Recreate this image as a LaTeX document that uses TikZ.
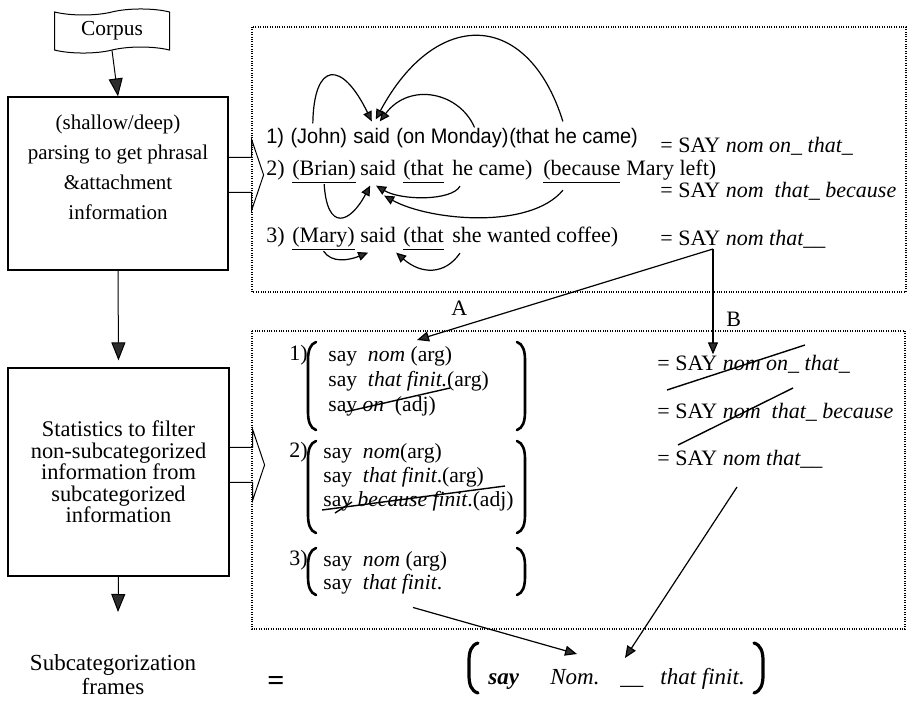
\documentclass[tikz,border=0pt]{standalone}
\usepackage{fontspec}
\setmainfont{Liberation Serif}
\newfontfamily\narrowsans[FakeStretch=0.95]{Liberation Sans}
\usetikzlibrary{arrows.meta,positioning,shapes.symbols}

\definecolor{headgray}{RGB}{45,45,45}

\tikzset{
  flowbox/.style={draw, line width=0.6pt, minimum width=110pt, align=center},
  flowarrow/.style={line width=0.5pt, -{Triangle[length=9pt,width=7pt,fill=headgray]}},
  chev/.style={line width=0.5pt},
  dotframe/.style={line width=0.7pt, dash pattern=on 0.5pt off 0.7pt},
  word/.style={inner sep=0pt, anchor=base west, font=\fontsize{11}{12}\selectfont},
  sansword/.style={word, font=\narrowsans\fontsize{10.5}{12}\selectfont},
  grp/.style={inner sep=0pt, anchor=north west, align=left},
  dep/.style={line width=0.6pt, -{Triangle[length=5pt,width=4.5pt,fill=headgray]}},
  pick/.style={line width=0.6pt, -{Triangle[length=6pt,width=5pt,fill=headgray]}},
  strike/.style={line width=0.7pt},
  brk/.style={line width=1.3pt, line cap=round}
}

\begin{document}
\begin{tikzpicture}[x=0.5pt,y=-0.5pt]

% left column: the flow
\node[draw, tape, line width=0.5pt, minimum width=57.5pt, minimum height=20pt, tape bend height=3pt,
  font=\fontsize{10.7}{12}\selectfont] (corpus) at (112,31) {Corpus};
\node[flowbox, minimum height=86.5pt, text depth=16pt, font=\fontsize{10.5}{15}\selectfont]
  (parse) at (118,183.5) {(shallow/deep)\\parsing to get phrasal\\\&attachment\\information};
\node[flowbox, minimum width=110.5pt, minimum height=104pt, font=\fontsize{11.2}{10.8}\selectfont]
  (stats) at (118.5,472) {Statistics to filter\\non-subcategorized\\information from\\subcategorized\\information};
\coordinate (outtip) at (118,612);
\node[align=center, font=\fontsize{11.5}{12}\selectfont] (frames) at (113,675) {Subcategorization\\frames};

\draw[flowarrow] (corpus.south) -- (parse.north);
\draw[flowarrow] (parse.south) -- ([yshift=3.5pt]stats.north);
\draw[flowarrow] (stats.south) -- (outtip);

\foreach \b/\off in {parse/61, stats/80}
  \draw[chev] (\b.north east) ++(0,\off) -- ++(23,0) -- ++(0,-18) -- ++(12,35.5)
    -- ++(-12,35.5) -- ++(0,-18) -- ++(-23,0);

% the two dotted frames
\draw[dotframe] (252,27) rectangle (906,292);
\draw[dotframe] (252,331) rectangle (905,629);

% sentence 1
\node[sansword] (n1) at (266,143) {1)};
\node[sansword, base right=2.8pt of n1] (john) {(John)};
\node[sansword, base right=2.8pt of john] (said1) {said};
\node[sansword, base right=2.8pt of said1] (monday) {(on Monday)};
\node[sansword, base right=0pt of monday] (thathe) {(that he came)};

% sentence 2
\node[word] (n2) at (266,175) {2)};
\node[word] (brian) at (292,175) {\underline{(Brian)}};
\node[word] (said2) at (360,175) {said};
\node[word] (that2) at (403,175) {\underline{(that}};
\node[word] (came2) at (452,175) {he came)};
\node[word] (because) at (543,175) {\underline{(because}};
\node[word] (left2) at (626,175) {Mary left)};

% sentence 3
\node[word] (n3) at (266,242) {3)};
\node[word] (mary) at (292,242) {\underline{(Mary)}};
\node[word] (said3) at (360,242) {said};
\node[word] (that3) at (403,242) {\underline{(that}};
\node[word] (she) at (452,242) {she wanted coffee)};

% attachment arcs
\draw[dep] ([shift={(-3pt,2pt)}]john.north) .. controls +(1,-62) and +(-30,-62) .. ([yshift=3pt]said1.north);
\draw[dep] ([xshift=11pt]monday.north) .. controls +(-15,-35) and +(30,-40) .. ([shift={(4pt,3pt)}]said1.north);
\draw[dep] ([shift={(27pt,3pt)}]thathe.north west) .. controls +(-35,-112) and +(60,-112) .. ([shift={(2pt,4pt)}]said1.north);

\draw[dep] (brian.south) .. controls +(3,48) and +(-20,38) .. ([shift={(-4pt,-5pt)}]said2.south);
\draw[dep] ([shift={(4pt,-3pt)}]came2.south west) .. controls +(-8,15) and +(25,15) .. ([shift={(-1pt,-5pt)}]said2.south);
\draw[dep] ([shift={(10pt,-3pt)}]because.south west) .. controls +(-33,40) and +(45,25) .. ([shift={(3pt,-10pt)}]said2.south);

\draw[dep] (mary.south) .. controls +(8,12) and +(-20,8) .. ([shift={(-5pt,-5pt)}]said3.south);
\draw[dep] ([shift={(4pt,-3pt)}]she.south west) .. controls +(-15,22) and +(25,22) .. ([shift={(9pt,-5pt)}]said3.south);

% frames found
\node[word] (sayA) at (660,152) {= SAY \textit{nom on\_ that\_}};
\node[word] (sayB) at (660,197) {= SAY \textit{nom\ \ that\_ because}};
\node[word] (sayC) at (660,245) {= SAY \textit{nom that\_\_}};
\coordinate (fork) at ([shift={(53,4)}]sayC.base west);

% filtered groups
\node[word] (lab1) at (289,360) {1)};
\node[word] (lab2) at (289,457) {2)};
\node[word] (lab3) at (289,565) {3)};
\node[grp, font=\fontsize{10.8}{12.5}\selectfont] (grp1) at (328,346)
  {say\ \ \textit{nom} (arg)\\say\ \ \textit{that finit.}(arg)\\say \textit{on}\ \ (adj)};
\node[grp, font=\fontsize{10.8}{12}\selectfont] (grp2) at (323,443)
  {say\ \ \textit{nom}(arg)\\say\ \ \textit{that finit}.(arg)\\say \textit{because finit}.(adj)};
\node[grp, font=\fontsize{10.8}{11.5}\selectfont] (grp3) at (323,551)
  {say\ \ \textit{nom} (arg)\\say\ \ \textit{that finit}.};

\foreach \t/\b in {342/430, 441/533, 548/595} {
  \draw[brk] (316,\t) .. controls (310,\t+2) and (308,\t+9) .. (308,\t+18) -- (308,\b-18)
    .. controls (308,\b-9) and (310,\b-2) .. (316,\b);
  \draw[brk] (517,\t) .. controls (523,\t+2) and (525,\t+9) .. (525,\t+18) -- (525,\b-18)
    .. controls (525,\b-9) and (523,\b-2) .. (517,\b);
}
\draw[strike] (345,412) -- (450,388);
\draw[strike] (322,510) -- (505,486);
\draw[strike] (335,513) -- (352,502);

\node[word] (sayD) at (657,370) {= SAY \textit{nom on\_ that\_}};
\node[word] (sayE) at (657,418) {= SAY \textit{nom\ \ that\_ because}};
\node[word] (sayF) at (657,465) {= SAY \textit{nom that\_\_}};
\draw[strike] ([shift={(10,20)}]sayD.base west) -- ++(138,-45);
\draw[strike] ([shift={(21,27)}]sayE.base west) -- ++(115,-57);

\node[word] (labA) at (451,315) {A};
\node[word] (labB) at (726,326) {B};
\draw[pick] (fork) -- ([shift={(89,-6)}]grp1.north west);
\draw[pick] (fork) -- (fork |- sayD.north);

% result
\node[font=\fontsize{15}{15}\selectfont\bfseries] (eq) at (276,683) {=};
\node[word, font=\fontsize{11.5}{12}\selectfont\bfseries\itshape] (fsay) at (488,684) {say};
\node[word, font=\fontsize{11.5}{12}\selectfont\itshape] (fnom) at (550,684) {Nom.};
\node[word, font=\fontsize{11.5}{12}\selectfont] (fblank) at (620,684) {\_\_};
\node[word, font=\fontsize{11.5}{12}\selectfont\itshape] (ffinit) at (660,684) {that finit.};
\draw[brk, line width=1.6pt] (478,643) .. controls (471,645) and (469,652) .. (469,661) -- (469,675)
  .. controls (469,684) and (471,691) .. (478,693);
\draw[brk, line width=1.6pt] (754,643) .. controls (761,645) and (763,652) .. (763,661) -- (763,675)
  .. controls (763,684) and (761,691) .. (754,693);

\draw[pick] ([shift={(90,13)}]grp3.south west) -- ([shift={(27,-30)}]fnom.base west);
\draw[pick] ([shift={(80,22)}]sayF.base west) -- ([shift={(5,-26)}]fblank.base west);

\useasboundingbox (0,0) rectangle (910,696);
\end{tikzpicture}
\end{document}
